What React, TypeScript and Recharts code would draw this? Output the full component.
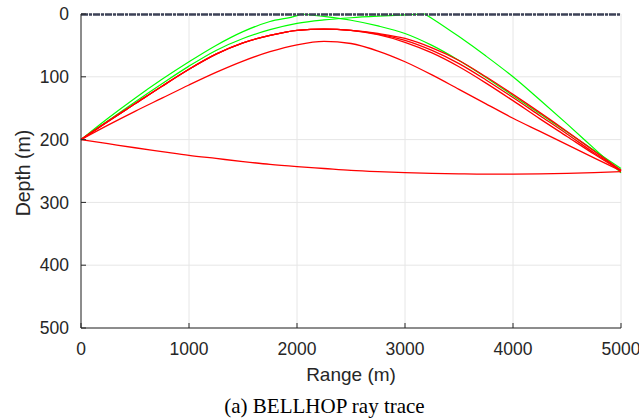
import React from "react";
import {
  LineChart,
  Line,
  XAxis,
  YAxis,
  CartesianGrid
} from "recharts";

// range grid used by the smooth rays (m)
const ranges = [
  0, 250, 500, 750, 1000, 1250, 1500, 1750, 2000, 2250, 2500,
  2750, 3000, 3250, 3500, 3750, 4000, 4250, 4500, 4750, 5000
];

// red rays (depth in m)
const redTopA = [200, 171, 143, 115, 88, 64, 46, 34, 26, 24, 26, 31, 39, 54, 74, 100, 128, 157, 187, 218, 249];
const redTopB = [200, 171, 143, 115, 88, 64, 46, 34, 26, 24, 26, 32, 42, 58, 79, 105, 133, 162, 191, 221, 249];
const redTopC = [200, 171, 143, 115, 88, 64, 46, 34, 26, 24, 26, 33, 45, 62, 84, 110, 138, 167, 195, 223, 250];
const redLow = [200, 177, 155, 134, 113, 93, 75, 60, 49, 43.5, 47, 59, 76, 97, 120, 143, 166, 187, 208, 229, 250];
const redDeep = [200, 206.5, 213, 219, 225, 230, 235, 239.5, 243, 246, 249, 251, 252.5, 253.7, 254.5, 255, 255, 254.6, 253.8, 252.6, 251];

// green rays, split at the surface bounce
const green1UpRange = [0, 250, 500, 750, 1000, 1250, 1500, 1750, 2000, 2040];
const green1Up = [200, 166, 134, 104, 76, 50, 28, 12, 2.5, 0];
const green1DownRange = [2040, 2250, 2500, 2750, 3000, 3250, 3500, 3750, 4000, 4250, 4500, 4750, 5000];
const green1Down = [0, 4, 10, 19, 31, 50, 74, 101, 130, 159, 188, 217, 246];
const green2UpRange = [0, 250, 500, 750, 1000, 1250, 1500, 1750, 2000, 2250, 2500, 2750, 3000, 3185];
const green2Up = [200, 170, 140, 111, 83, 58, 39, 25, 15, 9.5, 6, 3.5, 1.5, 0];
const green2DownRange = [3185, 3250, 3500, 3750, 4000, 4250, 4500, 4750, 5000];
const green2Down = [0, 7, 36, 67, 100, 137, 175, 214, 253];

// sea surface
const surfaceRange = [0, 5000];
const surfaceDepth = [0.6, 0.6];

const xTicks = [0, 1000, 2000, 3000, 4000, 5000];
const yTicks = [0, 100, 200, 300, 400, 500];

const toPoints = (r: number[], d: number[]) => r.map((v, i) => ({ r: v, d: d[i] }));

const RED = "#ff0000";
const GREEN = "#00ff00";
const AXIS = "#262626";
const FONT = "'Liberation Sans', Arial, Helvetica, sans-serif";

const redRays = [redTopA, redTopB, redTopC, redLow, redDeep];
const greenRays = [
  toPoints(green1UpRange, green1Up),
  toPoints(green1DownRange, green1Down),
  toPoints(green2UpRange, green2Up),
  toPoints(green2DownRange, green2Down)
];

export default function App() {
  return (
    <div
      style={{
        position: "absolute",
        left: 0,
        top: 0,
        width: 639,
        height: 420,
        background: "#fff"
      }}
    >
      <LineChart
        width={639}
        height={390}
        margin={{ top: 14, right: 18, bottom: 0, left: 0 }}
      >
        <CartesianGrid stroke="#e6e6e6" strokeWidth={1} />
        <XAxis
          dataKey="r"
          type="number"
          domain={[0, 5000]}
          ticks={xTicks}
          height={62}
          stroke={AXIS}
          tickSize={-5}
          tickMargin={20}
          tick={{ fill: AXIS, fontSize: 17.5, fontFamily: FONT }}
          label={() => (
            <text
              x={351}
              y={381}
              textAnchor="middle"
              fill={AXIS}
              fontSize={19}
              fontFamily={FONT}
            >
              Range (m)
            </text>
          )}
        />
        <XAxis
          xAxisId="top"
          dataKey="r"
          type="number"
          orientation="top"
          domain={[0, 5000]}
          ticks={xTicks}
          height={0}
          stroke={AXIS}
          tickSize={-5}
          tick={false}
        />
        <YAxis
          type="number"
          reversed
          domain={[0, 500]}
          ticks={yTicks}
          width={81}
          stroke={AXIS}
          tickSize={-5}
          tickMargin={17}
          tick={{ fill: AXIS, fontSize: 17.5, fontFamily: FONT }}
          label={() => (
            <text
              x={23}
              y={173}
              transform="rotate(-90 23 173)"
              textAnchor="middle"
              dominantBaseline="central"
              fill={AXIS}
              fontSize={19.5}
              fontFamily={FONT}
            >
              Depth (m)
            </text>
          )}
        />
        <YAxis
          yAxisId="right"
          type="number"
          orientation="right"
          reversed
          domain={[0, 500]}
          ticks={yTicks}
          width={0}
          stroke={AXIS}
          tickSize={-5}
          tick={false}
        />
        {greenRays.map((pts, i) => (
          <Line
            key={"g" + i}
            data={pts}
            dataKey="d"
            type="monotone"
            stroke={GREEN}
            strokeWidth={1.2}
            dot={false}
            activeDot={false}
            isAnimationActive={false}
          />
        ))}
        {redRays.map((d, i) => (
          <Line
            key={"r" + i}
            data={toPoints(ranges, d)}
            dataKey="d"
            type="monotone"
            stroke={RED}
            strokeWidth={1.3}
            dot={false}
            activeDot={false}
            isAnimationActive={false}
          />
        ))}
        <Line
          data={toPoints(surfaceRange, surfaceDepth)}
          dataKey="d"
          type="linear"
          stroke="#3d4157"
          strokeWidth={2.5}
          strokeDasharray="7 1 3 1"
          dot={false}
          activeDot={false}
          isAnimationActive={false}
        />
      </LineChart>
      <div
        style={{
          position: "absolute",
          left: 0,
          top: 393,
          width: 649,
          textAlign: "center",
          fontFamily: "'Liberation Serif', 'Times New Roman', serif",
          fontSize: 21,
          lineHeight: "26px",
          color: "#000"
        }}
      >
        (a) BELLHOP ray trace
      </div>
    </div>
  );
}
